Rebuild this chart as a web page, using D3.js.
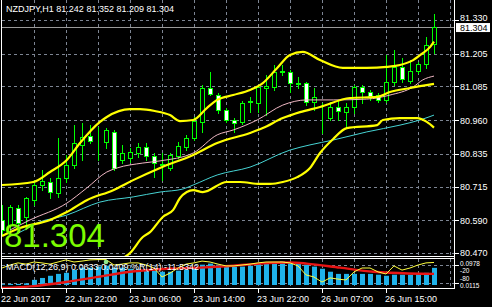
<!DOCTYPE html>
<html><head><meta charset="utf-8">
<script src="https://cdn.jsdelivr.net/npm/d3@7"></script>
<style>html,body{margin:0;padding:0;background:#000;overflow:hidden}</style>
</head><body>
<svg id="c" width="492" height="307"></svg>
<script>
// ---------- data ----------
const titleText = "NZDJPY,H1  81.242 81.352 81.209 81.304";
const macdTitle = "MACD(12,26,9) 0.0633 0.0409 %R(14) -11.5342";
const lastPrice = 81.304;
const opens  = [80.592,80.573,80.636,80.603,80.665,80.721,80.732,80.691,80.747,80.795,80.869,80.902,80.888,80.880,80.917,80.813,80.821,80.839,80.861,80.828,80.797,80.784,80.828,80.861,80.894,80.954,81.079,81.053,80.998,80.961,80.954,81.027,81.024,81.079,81.083,81.138,81.138,81.097,81.097,81.027,80.970,80.968,81.009,80.990,81.009,81.083,81.064,81.053,81.035,81.101,81.157,81.105,81.142,81.168,81.242];
const highs  = [80.647,80.647,80.647,80.677,80.739,80.776,80.747,80.894,80.832,80.942,80.950,80.942,80.935,80.931,80.924,80.869,80.857,80.876,80.876,80.839,80.839,80.839,80.880,80.906,80.972,81.090,81.138,81.061,81.005,80.968,81.031,81.046,81.090,81.127,81.164,81.164,81.145,81.120,81.101,81.079,81.024,81.027,81.035,81.024,81.090,81.090,81.072,81.061,81.201,81.219,81.190,81.182,81.175,81.267,81.352];
const lows   = [80.536,80.536,80.555,80.566,80.647,80.702,80.673,80.677,80.732,80.784,80.813,80.876,80.813,80.857,80.776,80.802,80.806,80.824,80.813,80.750,80.739,80.776,80.821,80.850,80.887,80.917,81.053,80.987,80.954,80.917,80.946,80.990,80.990,80.979,81.072,81.127,81.064,81.079,81.016,80.998,80.913,80.961,80.961,80.935,80.987,81.024,81.035,81.027,81.027,81.090,81.101,81.097,81.134,81.153,81.209];
const closes = [80.555,80.640,80.581,80.673,80.721,80.736,80.695,80.747,80.795,80.876,80.898,80.883,80.886,80.924,80.784,80.839,80.843,80.861,80.828,80.802,80.793,80.832,80.865,80.894,80.957,81.079,81.057,80.998,80.961,80.950,81.024,81.031,81.083,81.086,81.138,81.140,81.097,81.095,81.027,81.046,80.968,81.009,80.994,81.009,81.083,81.064,81.049,81.035,81.101,81.157,81.112,81.142,81.168,81.238,81.304];

// indicator lines as [bar index, value]
const bbUpper = [[0,80.721],[3.9,80.732],[6,80.769],[8.1,80.813],[9.75,80.876],[12.25,80.954],[13.1,80.972],[16,81.001],[17.25,81.001],[19.1,80.994],[21,80.979],[22.25,80.957],[23.9,80.961],[25.6,81.005],[26.9,81.035],[28.9,81.053],[31,81.072],[32.6,81.097],[34.4,81.153],[36,81.201],[37.6,81.212],[39.75,81.182],[42.6,81.153],[45.6,81.153],[48.1,81.157],[49.75,81.164],[51.4,81.182],[52.6,81.208],[53.5,81.230],[54,81.250]];
const bbMiddle = [[0,80.533],[2.25,80.562],[6,80.592],[8.1,80.621],[10.6,80.665],[13.9,80.702],[16.4,80.739],[19.75,80.784],[23.9,80.832],[26.9,80.876],[31,80.913],[32.6,80.931],[35.1,80.968],[37.25,80.990],[39.75,81.009],[43.5,81.042],[46.9,81.046],[48.5,81.064],[51,81.079],[54,81.094]];
const bbLower = [[0,80.345],[6,80.415],[10,80.420],[13,80.440],[14.5,80.445],[16,80.470],[17.6,80.529],[18.5,80.547],[20.1,80.603],[21.4,80.629],[22.25,80.673],[23.1,80.695],[23.9,80.702],[25.1,80.695],[28.1,80.732],[29.75,80.732],[32.25,80.725],[33.5,80.725],[35.1,80.732],[36.9,80.750],[38.5,80.784],[39.75,80.839],[41.4,80.891],[43.1,80.931],[46.9,80.942],[47.6,80.961],[49.75,80.968],[51.9,80.968],[53.1,80.954],[54,80.933]];
const pinkMA = [[1,80.555],[3.5,80.592],[8.1,80.654],[10.6,80.710],[13.1,80.769],[14.4,80.784],[17.6,80.802],[19.75,80.810],[23.9,80.839],[26.9,80.906],[28.9,80.924],[31.9,80.961],[35.1,81.016],[38.1,81.035],[41.4,81.035],[45.6,81.038],[48.5,81.053],[51.4,81.083],[52.6,81.109],[54,81.123]];
const cyanMA = [[1,80.533],[2.25,80.547],[4.4,80.581],[8.1,80.610],[12.25,80.658],[16.4,80.677],[19.75,80.695],[22.6,80.706],[23.9,80.721],[26.9,80.758],[31,80.787],[36,80.850],[38.5,80.869],[41.4,80.887],[45.6,80.917],[49.75,80.942],[52.25,80.961],[54,80.979]];

const macdHist = [0.003,0.004,0.004,0.006,0.019,0.026,0.034,0.041,0.045,0.056,0.064,0.064,0.068,0.071,0.064,0.064,0.060,0.060,0.056,0.053,0.049,0.049,0.053,0.056,0.064,0.075,0.079,0.075,0.071,0.068,0.068,0.071,0.079,0.083,0.083,0.087,0.083,0.079,0.075,0.068,0.060,0.049,0.041,0.041,0.041,0.041,0.041,0.038,0.034,0.038,0.038,0.038,0.041,0.045,0.0633];
const macdSignal = [[0,-0.011],[4,-0.004],[8,0.011],[12,0.030],[16,0.049],[20.6,0.060],[24.75,0.064],[28.9,0.071],[32.25,0.079],[36,0.083],[38.1,0.079],[42.25,0.064],[46.4,0.049],[48.5,0.045],[54,0.0409]];
const wpr = [-30,-20,-13,-17,-10,-13,-17,-10,-3,-10,-7,-3,-2,-2,-20,-17,-13,-13,-20,-30,-60,-47,-30,-17,-13,-7,-10,-17,-23,-23,-20,-17,-13,-10,-10,-10,-13,-23,-53,-60,-77,-63,-67,-70,-43,-30,-30,-43,-50,-23,-37,-30,-20,-13,-11.5342];
const wprLevels = [-20,-80];
const markers = [[13,-10]];

const priceTicks = [81.330,81.205,81.085,80.960,80.835,80.715,80.590,80.470];
const subTickLabels = ["0.0978","-20","-80","0.0115"];
const timeTickBars = [0,8,16,24,32,40,48];
const timeTickLabels = ["22 Jun 2017","22 Jun 22:00","23 Jun 06:00","23 Jun 14:00","23 Jun 22:00","26 Jun 07:00","26 Jun 15:00"];

// ---------- layout ----------
const svg = d3.select("#c");
const L = 2, R = 454, mainTop = 0, mainBot = 256, subTop = 259, subBot = 288;
const x = d3.scaleLinear().domain([0, 56]).range([2, 450]);
const y = d3.scaleLinear().domain([80.470, 81.330]).range([253, 20]);
const yM = d3.scaleLinear().domain([0, 0.0978]).range([285, 258.5]);
const yR = d3.scaleLinear().domain([0, -100]).range([259, 289]);
const FONT = "Liberation Sans, Arial, sans-serif";
const GRID = "#7d8593";
const px = v => Math.round(v) + 0.5;

svg.append("rect").attr("width", 492).attr("height", 307).attr("fill", "#000");
const defs = svg.append("defs");
defs.append("clipPath").attr("id", "cm").append("rect").attr("x", L).attr("y", mainTop).attr("width", R - L).attr("height", mainBot - mainTop);
defs.append("clipPath").attr("id", "cs").append("rect").attr("x", L).attr("y", subTop).attr("width", R - L).attr("height", subBot - subTop);

const gm = svg.append("g").attr("clip-path", "url(#cm)");
const gs = svg.append("g").attr("clip-path", "url(#cs)");

// grid
const vGrid = d3.range(4, 57, 4);
gm.selectAll(".vg").data(vGrid).join("line")
  .attr("x1", d => px(x(d))).attr("x2", d => px(x(d))).attr("y1", mainTop).attr("y2", mainBot)
  .attr("stroke", GRID).attr("stroke-dasharray", "3,3");
gm.selectAll(".hg").data(priceTicks).join("line")
  .attr("x1", L).attr("x2", R).attr("y1", d => px(y(d))).attr("y2", d => px(y(d)))
  .attr("stroke", GRID).attr("stroke-dasharray", "3,3");
gs.selectAll(".vg").data(vGrid).join("line")
  .attr("x1", d => px(x(d))).attr("x2", d => px(x(d))).attr("y1", subTop).attr("y2", subBot)
  .attr("stroke", GRID).attr("stroke-dasharray", "3,3");
gs.selectAll(".hg").data(wprLevels).join("line")
  .attr("x1", L).attr("x2", R).attr("y1", d => px(yR(d))).attr("y2", d => px(yR(d)))
  .attr("stroke", GRID).attr("stroke-dasharray", "3,3");

// current price line
gm.append("line").attr("x1", L).attr("x2", R).attr("y1", px(y(lastPrice))).attr("y2", px(y(lastPrice)))
  .attr("stroke", "#9a9a9a");

// candles
const idx = d3.range(opens.length);
gm.selectAll(".wick").data(idx).join("line")
  .attr("x1", i => x(i) + 0.5).attr("x2", i => x(i) + 0.5)
  .attr("y1", i => Math.round(y(highs[i]))).attr("y2", i => Math.round(y(lows[i])) + 1)
  .attr("stroke", "#00ff00");
gm.selectAll(".body").data(idx).join("rect")
  .attr("x", i => x(i) - 1.5).attr("width", 4)
  .attr("y", i => px(y(Math.max(opens[i], closes[i]))))
  .attr("height", i => Math.max(0, Math.round(y(Math.min(opens[i], closes[i]))) - Math.round(y(Math.max(opens[i], closes[i])))))
  .attr("fill", i => closes[i] >= opens[i] ? "#000" : "#fff")
  .attr("stroke", "#00ff00");

// indicator lines
const line = d3.line().x(d => x(d[0])).y(d => y(d[1])).curve(d3.curveMonotoneX);
gm.append("path").attr("d", line(cyanMA)).attr("fill", "none").attr("stroke", "#46d3d3").attr("stroke-width", 1);
gm.append("path").attr("d", line(pinkMA)).attr("fill", "none").attr("stroke", "#f0b8c4").attr("stroke-width", 1);
[bbUpper, bbMiddle, bbLower].forEach(s => {
  gm.append("path").attr("d", line(s)).attr("fill", "none").attr("stroke", "#ffff00").attr("stroke-width", 2.2);
});

// MACD histogram
gs.selectAll(".hb").data(idx).join("rect")
  .attr("x", i => x(i) - 2).attr("width", 5)
  .attr("y", i => Math.min(yM(macdHist[i]), yM(0)))
  .attr("height", i => Math.abs(yM(0) - yM(macdHist[i])))
  .attr("fill", "#1fb2ea");
const sLine = d3.line().x(d => x(d[0])).y(d => yM(d[1])).curve(d3.curveMonotoneX);
gs.append("path").attr("d", sLine(macdSignal)).attr("fill", "none").attr("stroke", "#e81414").attr("stroke-width", 2.4);
const wLine = d3.line().x((d, i) => x(i)).y(d => yR(d));
gs.append("path").attr("d", wLine(wpr)).attr("fill", "none").attr("stroke", "#ffff40").attr("stroke-width", 1);
gs.selectAll(".mk").data(markers).join("circle")
  .attr("cx", d => x(d[0])).attr("cy", d => yR(d[1])).attr("r", 2.3).attr("fill", "#8fe88f");

// frames
const frame = svg.append("g").attr("stroke", "#fff").attr("fill", "none");
frame.append("line").attr("x1", 1.5).attr("x2", 1.5).attr("y1", 0).attr("y2", subBot + 0.5);
frame.append("line").attr("x1", R + 0.5).attr("x2", R + 0.5).attr("y1", 0).attr("y2", subBot + 0.5);
frame.append("line").attr("x1", 1).attr("x2", R + 1).attr("y1", mainBot + 0.5).attr("y2", mainBot + 0.5);
frame.append("line").attr("x1", 1).attr("x2", R + 1).attr("y1", subTop - 0.5).attr("y2", subTop - 0.5);
frame.append("line").attr("x1", 1).attr("x2", R + 1).attr("y1", subBot + 0.5).attr("y2", subBot + 0.5);

// right price axis
const ax = svg.append("g").attr("font-family", FONT).attr("font-size", 9).attr("fill", "#fff");
ax.selectAll(".pt").data(priceTicks).join("line")
  .attr("x1", R + 1).attr("x2", R + 5).attr("y1", d => px(y(d))).attr("y2", d => px(y(d))).attr("stroke", "#fff");
ax.selectAll(".pl").data(priceTicks).join("text")
  .attr("x", 460).attr("y", (d, i) => y(d) + (i === 0 ? 1.2 : 3.3)).text(d => d.toFixed(3));
ax.selectAll(".st").data(wprLevels).join("line")
  .attr("x1", R + 1).attr("x2", R + 5).attr("y1", d => px(yR(d))).attr("y2", d => px(yR(d))).attr("stroke", "#fff");
// sub-window scale labels, stacked so they stay readable
const subY = d3.scalePoint().domain(subTickLabels).range([265.5, 288]);
ax.selectAll(".sl").data(subTickLabels).join("text")
  .attr("x", 460).attr("y", d => subY(d)).attr("font-size", 6.5).text(d => d);

// current price box
const pb = svg.append("g");
pb.append("rect").attr("x", 456).attr("y", y(lastPrice) - 4).attr("width", 34).attr("height", 9).attr("fill", "#fff");
pb.append("text").attr("x", 460).attr("y", y(lastPrice) + 3.6).attr("font-family", FONT).attr("font-size", 9)
  .attr("fill", "#000").text(lastPrice.toFixed(3));

// time axis
const tx = svg.append("g").attr("font-family", FONT).attr("font-size", 9).attr("fill", "#fff");
tx.selectAll(".tt").data(timeTickBars).join("line")
  .attr("x1", d => px(x(d))).attr("x2", d => px(x(d))).attr("y1", subBot + 1).attr("y2", subBot + 5).attr("stroke", "#fff");
tx.selectAll(".tl").data(timeTickBars).join("text")
  .attr("x", d => Math.max(1, x(d) - 1)).attr("y", 302).text((d, i) => timeTickLabels[i]);

// titles
svg.append("text").attr("x", 6).attr("y", 12).attr("font-family", FONT).attr("font-size", 9)
  .attr("fill", "#fff").text(titleText);
svg.append("text").attr("x", 6).attr("y", 270).attr("font-family", FONT).attr("font-size", 9)
  .attr("fill", "#fff").text(macdTitle);

// big last price
svg.append("text").attr("x", 4).attr("y", 247).attr("font-family", FONT).attr("font-size", 33)
  .attr("fill", "#7cfc00").text(lastPrice.toFixed(3));
</script>
</body></html>
